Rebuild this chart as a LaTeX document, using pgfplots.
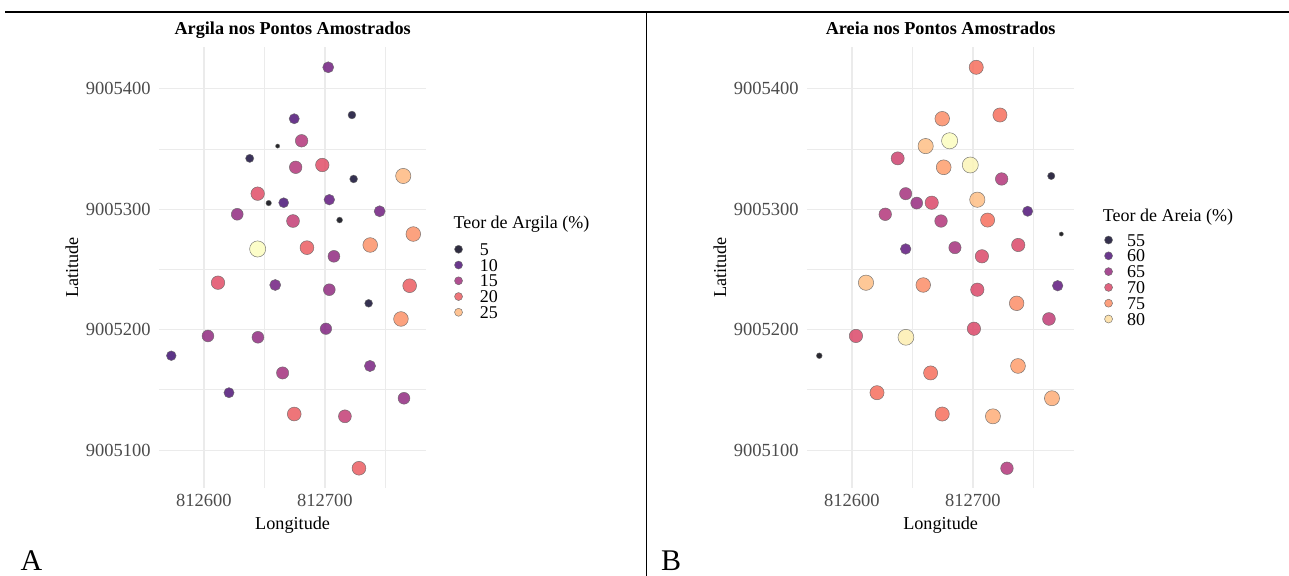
\documentclass[border=0pt]{standalone}
\usepackage{fontspec}
\setmainfont{Liberation Serif}
\usepackage{pgfplots}
\usepackage{pgfplotstable}
\pgfplotsset{compat=1.18}

% UTM coordinates of the sampled points, stored as
% E = Easting - 812000 m, N = Northing - 9005000 m
% arg = clay content (%), are = sand content (%)
\pgfplotstableread{
E N arg are
702.7 417.8 12 73
674.6 375.1 10 75
722.3 378.2 6 73
680.7 356.8 16 82
660.9 352.4 3.7 78
637.8 342.2 6.5 69
675.8 334.8 16 76
697.8 336.7 19 81.5
723.7 325.1 6 67
764.7 327.6 25 54.5
644.4 312.9 19 66
653.5 305.1 4 65
665.9 305.4 9.5 70
703.6 307.9 11 78
627.5 295.8 14 67
673.6 290.2 17 67
712.1 291.0 4.2 73
745.2 298.3 12 60
773.0 279.4 23 52.5
644.4 267.0 28.7 61
685.1 268.1 20 66
707.4 260.9 14 70
737.4 270.3 23 70
611.6 239.0 19 78
658.9 237.1 12 75
703.6 233.2 14 70
770.0 236.5 20 61
736.1 221.9 6 75
762.8 208.9 23 68
603.3 194.8 14 70
644.6 193.7 14 81
700.8 200.8 13 70
573.0 178.4 9 53
665.0 164.1 15 73
737.2 169.9 12.5 76
620.7 147.7 10 73
765.3 143.1 14 77
674.6 130.0 20 73
716.5 128.1 17 77
728.1 85.0 20 67
}\pts

\definecolor{gridc}{HTML}{EBEBEB}
% legend colours (magma at the legend values)
\definecolor{la1}{RGB}{10,7,30}
\definecolor{la2}{RGB}{80,21,120}
\definecolor{la3}{RGB}{162,48,125}
\definecolor{la4}{RGB}{235,93,98}
\definecolor{la5}{RGB}{254,184,128}
\definecolor{lb1}{RGB}{17,12,46}
\definecolor{lb2}{RGB}{81,21,121}
\definecolor{lb3}{RGB}{150,44,127}
\definecolor{lb4}{RGB}{219,72,105}
\definecolor{lb5}{RGB}{251,142,102}
\definecolor{lb6}{RGB}{253,221,160}

\newcommand{\tickfont}{\fontsize{18.5bp}{20bp}\selectfont}
\newcommand{\labfont}{\fontsize{18.2bp}{20bp}\selectfont}
\newcommand{\titfont}{\fontsize{18.2bp}{20bp}\selectfont\bfseries}
\newcommand{\legfont}{\fontsize{18bp}{20bp}\selectfont}

\pgfplotsset{
  colormap={magma}{rgb255=(0,0,4) rgb255=(20,14,54) rgb255=(59,15,112) rgb255=(100,26,128) rgb255=(140,41,129) rgb255=(183,55,121) rgb255=(222,73,104) rgb255=(247,112,92) rgb255=(254,159,109) rgb255=(254,207,146) rgb255=(252,253,191)},
  panel/.style={
    scale only axis, width=266.7bp, height=440.7bp,
    anchor=south west,
    xmin=563.1, xmax=783.5, ymin=68.6, ymax=434.4,
    axis line style={draw=none},
    major tick length=0pt, minor tick length=0pt,
    xtick={600,700}, xticklabels={812600,812700},
    minor xtick={650,750},
    ytick={100,200,300,400}, yticklabels={9005100,9005200,9005300,9005400},
    minor ytick={150,250,350},
    grid=both,
    major grid style={draw=gridc, line width=1.2bp},
    minor grid style={draw=gridc, line width=0.9bp},
    tick label style={font=\tickfont, text=black!70},
    yticklabel style={anchor=east, inner sep=0pt, xshift=-8.5bp},
    xticklabel style={anchor=north, inner sep=0pt, yshift=-6bp},
    xlabel=Longitude, ylabel=Latitude,
    every axis x label/.style={at={(axis description cs:0.5,-0.06467)}, anchor=north, inner sep=0pt, font=\labfont},
    every axis y label/.style={at={(axis description cs:-0.3273,0.5)}, rotate=90, anchor=center, inner sep=0pt, font=\labfont},
    every axis title/.style={at={(axis description cs:0.5,1.02836)}, anchor=base, inner sep=0pt, font=\titfont},
    colormap name=magma,
    legend cell align=left,
    clip=false,
  },
  pts/.style={scatter, only marks, mark=*, forget plot, point meta=explicit,
    scatter/use mapped color={draw=black!60, fill=mapped color},
    mark options={line width=0.5bp, fill opacity=0.85, draw opacity=0.85},
    scatter/@pre marker code/.append style={/tikz/mark size={2.1+6.0*sqrt(\pgfplotspointmetatransformed/1000)}}},
  legimg/.style={draw=black!60, line width=0.5bp, fill opacity=0.85, draw opacity=0.85},
}

\begin{document}
\begin{tikzpicture}
\path[use as bounding box] (0,0) rectangle (1289bp,576bp);

% ---------------- Panel A ----------------
\begin{axis}[panel, at={(159.3bp,88bp)},
  title={Argila nos Pontos Amostrados},
  legend style={at={(axis description cs:1.1061,0.5525)}, anchor=north west,
    draw=none, fill=none, inner sep=0pt, outer sep=0pt, row sep=0pt, column sep=0pt,
    font=\legfont, nodes={inner sep=0pt, outer sep=0pt, text height=10.9bp, text depth=4.85bp}},
  legend image code/.code={\path[#1] (4bp,3.1bp) circle[radius=4.0bp]; \path (0bp,0bp) (25bp,0bp);},
]
\addplot[pts, point meta min=3.7, point meta max=28.7] table[x=E, y=N, meta=arg] {\pts};
\addlegendimage{legimg, fill=la1}\addlegendentry{5}
\addlegendimage{legimg, fill=la2}\addlegendentry{10}
\addlegendimage{legimg, fill=la3}\addlegendentry{15}
\addlegendimage{legimg, fill=la4}\addlegendentry{20}
\addlegendimage{legimg, fill=la5}\addlegendentry{25}
\end{axis}
\node[anchor=west, inner sep=0pt, font=\legfont] at (453.3bp,352bp) {Teor de Argila (\%)};

% ---------------- Panel B ----------------
\begin{axis}[panel, at={(807.3bp,88bp)},
  title={Areia nos Pontos Amostrados},
  legend style={at={(axis description cs:1.1136,0.5736)}, anchor=north west,
    draw=none, fill=none, inner sep=0pt, outer sep=0pt, row sep=0pt, column sep=0pt,
    font=\legfont, nodes={inner sep=0pt, outer sep=0pt, text height=10.95bp, text depth=4.85bp}},
  legend image code/.code={\path[#1] (4bp,3.1bp) circle[radius=4.0bp]; \path (0bp,0bp) (22.4bp,0bp);},
]
\addplot[pts, point meta min=52.5, point meta max=82] table[x=E, y=N, meta=are] {\pts};
\addlegendimage{legimg, fill=lb1}\addlegendentry{55}
\addlegendimage{legimg, fill=lb2}\addlegendentry{60}
\addlegendimage{legimg, fill=lb3}\addlegendentry{65}
\addlegendimage{legimg, fill=lb4}\addlegendentry{70}
\addlegendimage{legimg, fill=lb5}\addlegendentry{75}
\addlegendimage{legimg, fill=lb6}\addlegendentry{80}
\end{axis}
\node[anchor=west, inner sep=0pt, font=\legfont] at (1102.7bp,359.3bp) {Teor de Areia (\%)};

% frame lines and panel letters
\draw[line width=1.5bp] (5bp,564bp) -- (1289bp,564bp);
\draw[line width=1.5bp] (646.5bp,564bp) -- (646.5bp,0bp);
\node[anchor=base west, inner sep=0pt, font=\fontsize{30bp}{32bp}\selectfont] at (20.5bp,6bp) {A};
\node[anchor=base west, inner sep=0pt, font=\fontsize{30bp}{32bp}\selectfont] at (661bp,6bp) {B};
\end{tikzpicture}
\end{document}
